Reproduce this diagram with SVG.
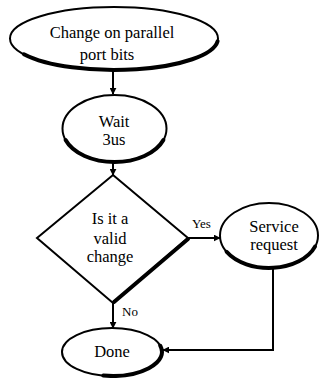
<svg xmlns="http://www.w3.org/2000/svg" width="320" height="378" viewBox="0 0 320 378">
  <style>
    .shape { fill: #ffffff; stroke: #000000; stroke-width: 2; }
    .shade { fill: none; stroke: #000000; stroke-width: 4; stroke-linecap: round; }
    .label { font-family: "Liberation Serif", "Times New Roman", serif; font-size: 16.5px; fill: #000000; text-anchor: middle; }
    .edge-label { font-family: "Liberation Serif", "Times New Roman", serif; font-size: 13px; fill: #000000; }
    .link { fill: none; stroke: #000000; stroke-width: 2; }
  </style>
  <defs>
    <marker id="arrow" viewBox="0 0 10 10" refX="9" refY="5" markerWidth="7" markerHeight="7" markerUnits="userSpaceOnUse" orient="auto">
      <path d="M0,0 L10,5 L0,10 z" fill="#000000"/>
    </marker>
  </defs>
  <rect width="320" height="378" fill="#ffffff"/>

  <g id="start">
    <ellipse class="shape" cx="114" cy="38.5" rx="104" ry="31.5"/>
    <path class="shade" d="M23.9,54.25 A104,31.5 0 0 0 217.6,41.2"/>
    <text class="label" x="112" y="38">Change on parallel</text>
    <text class="label" x="107" y="60">port bits</text>
  </g>

  <g id="wait">
    <ellipse class="shape" cx="114.5" cy="128.5" rx="52" ry="33.5"/>
    <path class="shade" d="M65.6,140 A52,33.5 0 0 0 163.4,140"/>
    <text class="label" x="114" y="127">Wait</text>
    <text class="label" x="114" y="145">3us</text>
  </g>

  <g id="decision">
    <polygon class="shape" points="113,175 188,238 113,303 37,238"/>
    <path class="shade" d="M188,239 L114,302" stroke-width="5"/>
    <text class="label" x="110" y="224">Is it a</text>
    <text class="label" x="110" y="244">valid</text>
    <text class="label" x="110" y="262">change</text>
  </g>

  <g id="service">
    <ellipse class="shape" cx="269" cy="235.5" rx="49" ry="32.5"/>
    <path class="shade" d="M226.6,251.75 A49,32.5 0 0 0 315,246.6"/>
    <text class="label" x="274" y="232">Service</text>
    <text class="label" x="274" y="250">request</text>
  </g>

  <g id="done">
    <ellipse class="shape" cx="112" cy="352" rx="50" ry="24"/>
    <path class="shade" d="M103.3,375.6 A50,24 0 0 0 160.3,345.8"/>
    <text class="label" x="112" y="357">Done</text>
  </g>

  <g id="connectors">
    <line class="link" x1="113" y1="70" x2="113" y2="94" marker-end="url(#arrow)"/>
    <line class="link" x1="113" y1="162" x2="113" y2="175" marker-end="url(#arrow)"/>
    <line class="link" x1="188" y1="238" x2="220" y2="238" marker-end="url(#arrow)"/>
    <line class="link" x1="113" y1="303" x2="113" y2="328" marker-end="url(#arrow)"/>
    <polyline class="link" points="273,268 273,350 163,350" marker-end="url(#arrow)"/>
    <text class="edge-label" x="192" y="228">Yes</text>
    <text class="edge-label" x="122" y="316">No</text>
  </g>
</svg>
